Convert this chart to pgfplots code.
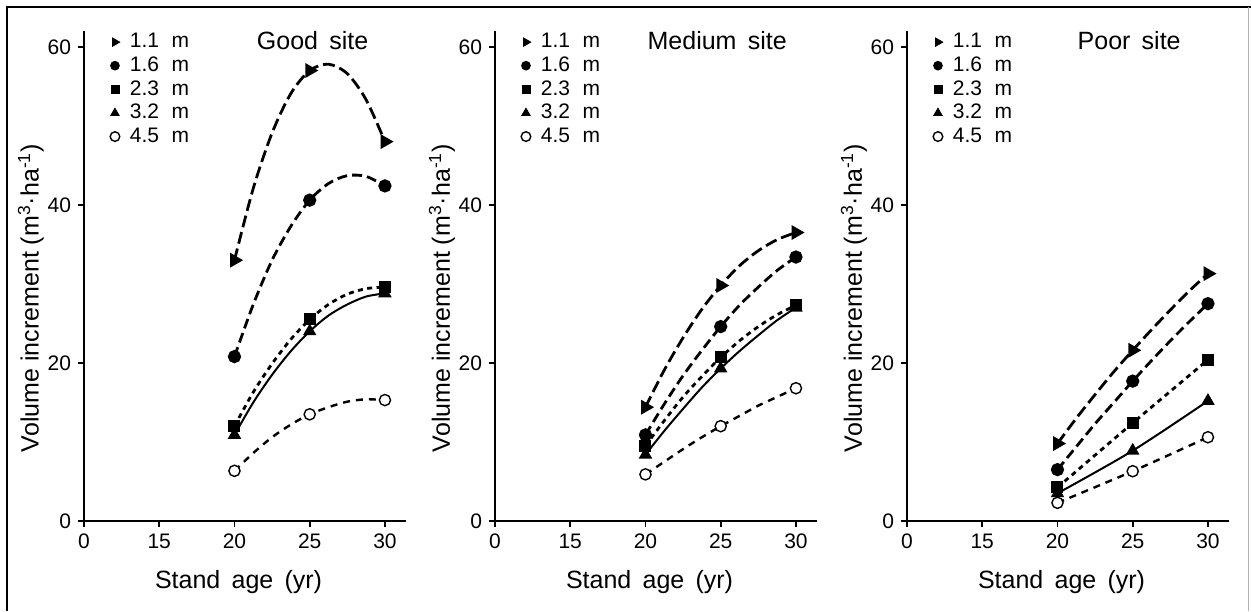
\documentclass[border=0pt]{standalone}
\usepackage{fontspec}
\setmainfont{Liberation Sans}
\usepackage{pgfplots}
\pgfplotsset{compat=1.18}

\pgfplotsset{
  site/.style={
    scale only axis, width=161pt, height=245pt,
    xmin=10, xmax=31.4, ymin=0, ymax=62,
    axis lines=left, axis line style={-, line width=1.3pt},
    xtick={10,15,20,25,30}, xticklabels={0,15,20,25,30},
    ytick={0,20,40,60}, yticklabels={0,20,40,60},
    tick align=outside, major tick length=3pt,
    every tick/.style={black, line width=0.8pt},
    ticklabel style={font=\fontsize{10.5}{12}\selectfont},
    xlabel={Stand\hspace{0.45em}age\hspace{0.45em}(yr)},
    ylabel={Volume increment (m\textsuperscript{3}·ha\textsuperscript{-1})},
    label style={font=\fontsize{12.5}{14}\selectfont},
    xlabel style={at={(axis description cs:0.48,-0.124)}, anchor=center},
    ylabel style={at={(axis description cs:-0.165,0.455)}, anchor=center},
    legend style={at={(axis description cs:0.08,1.0)}, anchor=north west,
      draw=none, fill=none, font=\fontsize{10.5}{12}\selectfont,
      row sep=1pt, inner sep=0pt, nodes={inner sep=1pt}},
    legend cell align=left,
    legend image code/.code={\draw[#1] plot coordinates {(0cm,0cm)}; \path (0.22cm,0cm);},
    clip=false,
  },
  l11/.style={black, line width=1.4pt, dash pattern=on 6pt off 2.5pt, smooth,
    mark=triangle*, mark size=2.9pt, mark options={solid, rotate=-90}},
  l16/.style={black, line width=1.4pt, dash pattern=on 5pt off 2.5pt, smooth,
    mark=*, mark size=2.6pt, mark options={solid}},
  l23/.style={black, line width=1.4pt, dash pattern=on 2.5pt off 2.2pt, smooth,
    mark=square*, mark size=2.3pt, mark options={solid}},
  l32/.style={black, line width=1pt, solid, smooth,
    mark=triangle*, mark size=2.9pt},
  l45/.style={black, line width=1.2pt, dash pattern=on 3.5pt off 3pt, smooth,
    mark=*, mark size=2.8pt, mark options={solid, fill=white, draw=black, line width=0.7pt}},
}

\newcommand{\sitelegend}{%
  \addlegendimage{black, mark=triangle*, mark size=2.4pt, mark options={rotate=-90}}
  \addlegendentry{1.1\hspace{0.6em}m}
  \addlegendimage{black, mark=*, mark size=2.2pt}
  \addlegendentry{1.6\hspace{0.6em}m}
  \addlegendimage{black, mark=square*, mark size=2pt}
  \addlegendentry{2.3\hspace{0.6em}m}
  \addlegendimage{black, mark=triangle*, mark size=2.4pt}
  \addlegendentry{3.2\hspace{0.6em}m}
  \addlegendimage{black, mark=*, mark size=2.4pt, mark options={fill=white, draw=black, line width=0.7pt}}
  \addlegendentry{4.5\hspace{0.6em}m}
}

\begin{document}
\begin{tikzpicture}
\path[use as bounding box] (0,0) rectangle (625.5pt,305.5pt);
\draw[line width=1.4pt] (3.5pt,0) -- (3.5pt,302pt) -- (625.5pt,302pt);
\draw[gray!60, line width=0.5pt] (624pt,0) -- (624pt,302pt);

% Good site
\begin{axis}[site, at={(42pt,45pt)}, anchor=south west]
\sitelegend
\addplot[l11, mark indices={1,5,9}, forget plot] coordinates {(20,33) (21.25,42.1) (22.5,49.1) (23.75,54.1) (25,57) (26.25,57.8) (27.5,56.6) (28.75,53.3) (30,48)};
\addplot[l16, mark indices={1,5,9}, forget plot] coordinates {(20,20.8) (21.25,27.4) (22.5,33.0) (23.75,37.3) (25,40.6) (26.25,42.7) (27.5,43.7) (28.75,43.6) (30,42.4)};
\addplot[l23, mark indices={1,5,9}, forget plot] coordinates {(20,12.0) (21.25,16.3) (22.5,19.9) (23.75,23.0) (25,25.5) (26.25,27.4) (27.5,28.7) (28.75,29.4) (30,29.6)};
\addplot[l32, mark indices={1,5,9}, forget plot] coordinates {(20,10.9) (21.25,15.0) (22.5,18.5) (23.75,21.5) (25,24.0) (26.25,26.0) (27.5,27.4) (28.75,28.4) (30,28.8)};
\addplot[l45, mark indices={1,5,9}, forget plot] coordinates {(20,6.35) (21.25,8.6) (22.5,10.6) (23.75,12.2) (25,13.5) (26.25,14.4) (27.5,15.1) (28.75,15.4) (30,15.3)};
\node[font=\fontsize{12.5}{14}\selectfont] at (axis description cs:0.71,0.98) {Good\hspace{0.45em}site};
\end{axis}

% Medium site
\begin{axis}[site, at={(247.5pt,45pt)}, anchor=south west]
\sitelegend
\addplot[l11, mark indices={1,5,9}, forget plot] coordinates {(20,14.4) (21.25,19.1) (22.5,23.2) (23.75,26.8) (25,29.8) (26.25,32.3) (27.5,34.2) (28.75,35.6) (30,36.5)};
\addplot[l16, mark indices={1,5,9}, forget plot] coordinates {(20,10.9) (21.25,14.8) (22.5,18.4) (23.75,21.6) (25,24.6) (26.25,27.3) (27.5,29.6) (28.75,31.7) (30,33.4)};
\addplot[l23, mark indices={1,5,9}, forget plot] coordinates {(20,9.5) (21.25,12.7) (22.5,15.7) (23.75,18.3) (25,20.7) (26.25,22.8) (27.5,24.6) (28.75,26.1) (30,27.3)};
\addplot[l32, mark indices={1,5,9}, forget plot] coordinates {(20,8.4) (21.25,11.4) (22.5,14.2) (23.75,16.9) (25,19.3) (26.25,21.5) (27.5,23.5) (28.75,25.4) (30,27.0)};
\addplot[l45, mark indices={1,5,9}, forget plot] coordinates {(20,5.9) (21.25,7.5) (22.5,9.1) (23.75,10.6) (25,12.0) (26.25,13.3) (27.5,14.6) (28.75,15.7) (30,16.8)};
\node[font=\fontsize{12.5}{14}\selectfont] at (axis description cs:0.69,0.98) {Medium\hspace{0.45em}site};
\end{axis}

% Poor site
\begin{axis}[site, at={(453.5pt,45pt)}, anchor=south west]
\sitelegend
\addplot[l11, mark indices={1,5,9}, forget plot] coordinates {(20,9.8) (21.25,13.0) (22.5,16.0) (23.75,18.9) (25,21.6) (26.25,24.2) (27.5,26.7) (28.75,29.1) (30,31.3)};
\addplot[l16, mark indices={1,5,9}, forget plot] coordinates {(20,6.5) (21.25,9.4) (22.5,12.3) (23.75,15.0) (25,17.7) (26.25,20.3) (27.5,22.8) (28.75,25.2) (30,27.5)};
\addplot[l23, forget plot] coordinates {(20,4.25) (25,12.4) (30,20.4)};
\addplot[l32, forget plot] coordinates {(20,3.5) (25,8.9) (30,15.2)};
\addplot[l45, forget plot] coordinates {(20,2.3) (25,6.3) (30,10.6)};
\node[font=\fontsize{12.5}{14}\selectfont] at (axis description cs:0.69,0.98) {Poor\hspace{0.45em}site};
\end{axis}
\end{tikzpicture}
\end{document}
